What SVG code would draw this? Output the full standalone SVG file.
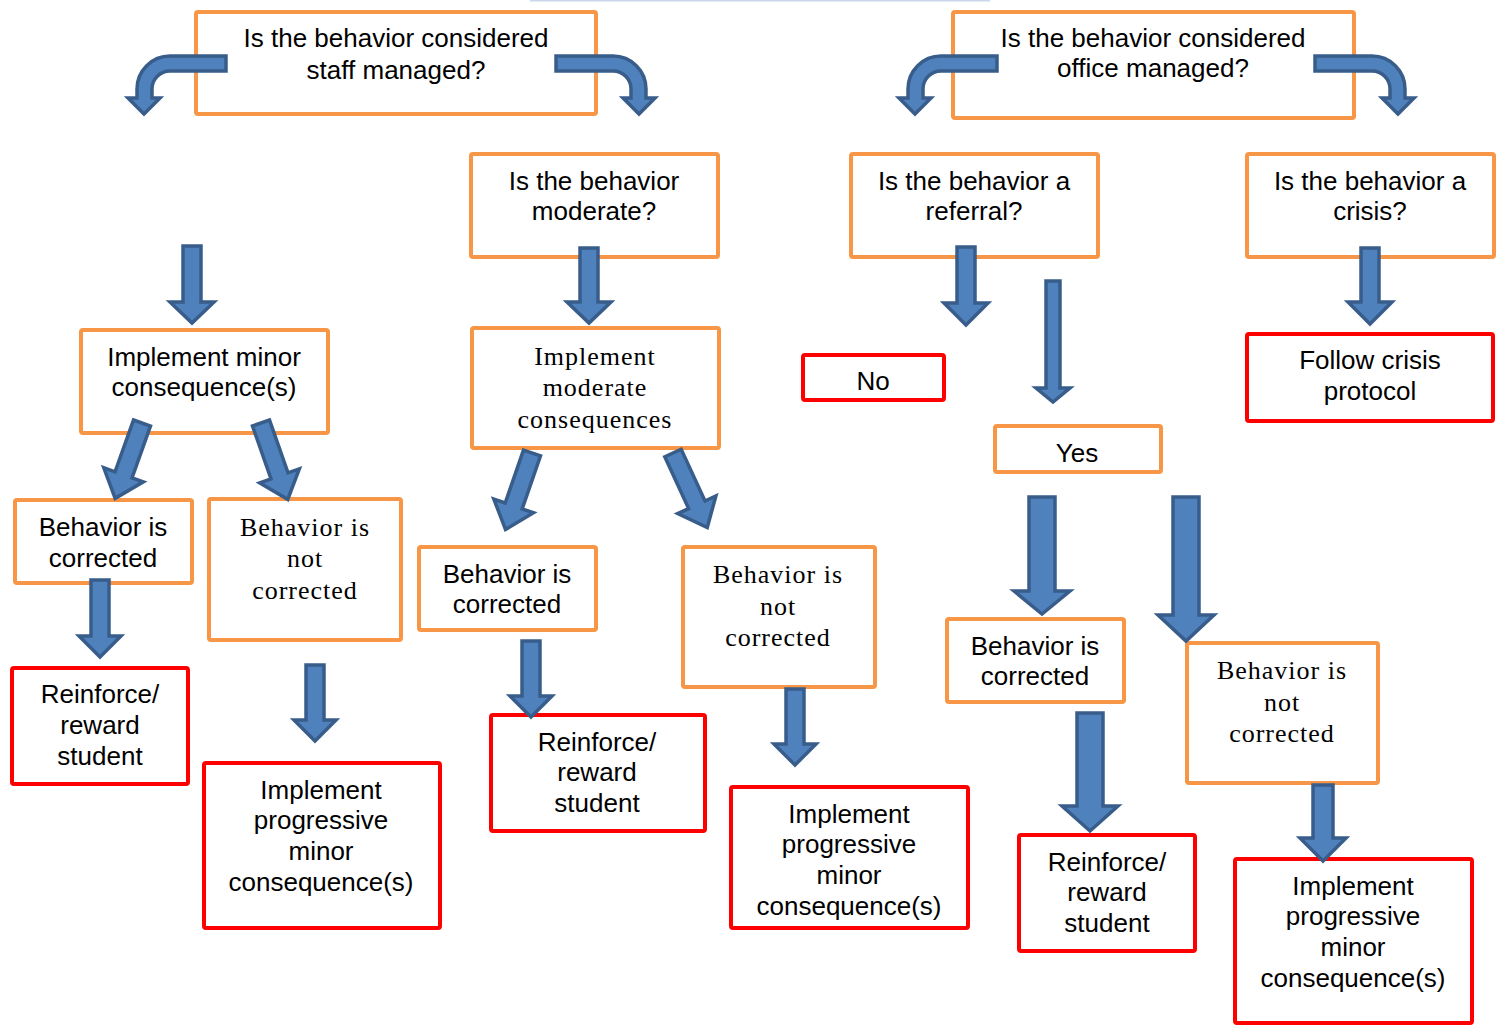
<svg xmlns="http://www.w3.org/2000/svg" width="1512" height="1027" viewBox="0 0 1512 1027">
<style>
.o{fill:#fff;stroke:#F79646;stroke-width:4}
.r{fill:#fff;stroke:#FF0000;stroke-width:4}
.t{font-family:"Liberation Sans",Arial,sans-serif;font-size:26px;fill:#000;text-anchor:middle}
.s{font-family:"Liberation Serif","Times New Roman",serif;font-size:26px;letter-spacing:1px;fill:#000;text-anchor:middle}
.a{fill:#4F81BD;stroke:#385D8A;stroke-width:3.5;stroke-linejoin:miter}
</style>
<rect width="1512" height="1027" fill="#fff"/>
<rect x="530" y="0" width="460" height="1.5" fill="#c9d7ea"/>
<g id="staff"><rect class="o" x="196" y="12" width="400" height="102" rx="2"/><text class="t" x="396" y="47">Is the behavior considered</text><text class="t" x="396" y="79">staff managed?</text></g>
<g id="office"><rect class="o" x="953" y="12" width="401" height="106" rx="2"/><text class="t" x="1153" y="47">Is the behavior considered</text><text class="t" x="1153" y="77">office managed?</text></g>
<g id="moderate"><rect class="o" x="471" y="154" width="247" height="103" rx="2"/><text class="t" x="594" y="190">Is the behavior</text><text class="t" x="594" y="220">moderate?</text></g>
<g id="referral"><rect class="o" x="851" y="154" width="247" height="103" rx="2"/><text class="t" x="974" y="190">Is the behavior a</text><text class="t" x="974" y="220">referral?</text></g>
<g id="crisis"><rect class="o" x="1247" y="154" width="247" height="103" rx="2"/><text class="t" x="1370" y="190">Is the behavior a</text><text class="t" x="1370" y="220">crisis?</text></g>
<g id="minor"><rect class="o" x="81" y="330" width="247" height="103" rx="2"/><text class="t" x="204" y="366">Implement minor</text><text class="t" x="204" y="396">consequence(s)</text></g>
<g id="modcons"><rect class="o" x="472" y="328" width="247" height="120" rx="2"/><text class="s" x="595" y="365">Implement</text><text class="s" x="595" y="396">moderate</text><text class="s" x="595" y="428">consequences</text></g>
<g id="no"><rect class="r" x="803" y="355" width="141" height="45" rx="2"/><text class="t" x="873" y="390">No</text></g>
<g id="followcrisis"><rect class="r" x="1247" y="334" width="246" height="87" rx="2"/><text class="t" x="1370" y="369">Follow crisis</text><text class="t" x="1370" y="400">protocol</text></g>
<g id="yes"><rect class="o" x="995" y="426" width="166" height="46" rx="2"/><text class="t" x="1077" y="462">Yes</text></g>
<g id="corrL"><rect class="o" x="15" y="500" width="177" height="83" rx="2"/><text class="t" x="103" y="536">Behavior is</text><text class="t" x="103" y="567">corrected</text></g>
<g id="notcorrL"><rect class="o" x="209" y="499" width="192" height="141" rx="2"/><text class="s" x="305" y="536">Behavior is</text><text class="s" x="305" y="567">not</text><text class="s" x="305" y="599">corrected</text></g>
<g id="corrM"><rect class="o" x="419" y="547" width="177" height="83" rx="2"/><text class="t" x="507" y="583">Behavior is</text><text class="t" x="507" y="613">corrected</text></g>
<g id="notcorrM"><rect class="o" x="683" y="547" width="192" height="140" rx="2"/><text class="s" x="778" y="583">Behavior is</text><text class="s" x="778" y="615">not</text><text class="s" x="778" y="646">corrected</text></g>
<g id="corrR"><rect class="o" x="947" y="619" width="177" height="83" rx="2"/><text class="t" x="1035" y="655">Behavior is</text><text class="t" x="1035" y="685">corrected</text></g>
<g id="notcorrR"><rect class="o" x="1187" y="643" width="191" height="140" rx="2"/><text class="s" x="1282" y="679">Behavior is</text><text class="s" x="1282" y="711">not</text><text class="s" x="1282" y="742">corrected</text></g>
<g id="rewardL"><rect class="r" x="12" y="668" width="176" height="116" rx="2"/><text class="t" x="100" y="703">Reinforce/</text><text class="t" x="100" y="734">reward</text><text class="t" x="100" y="765">student</text></g>
<g id="progL"><rect class="r" x="204" y="763" width="236" height="165" rx="2"/><text class="t" x="321" y="799">Implement</text><text class="t" x="321" y="829">progressive</text><text class="t" x="321" y="860">minor</text><text class="t" x="321" y="891">consequence(s)</text></g>
<g id="rewardM"><rect class="r" x="491" y="715" width="214" height="116" rx="2"/><text class="t" x="597" y="751">Reinforce/</text><text class="t" x="597" y="781">reward</text><text class="t" x="597" y="812">student</text></g>
<g id="progM"><rect class="r" x="731" y="787" width="237" height="141" rx="2"/><text class="t" x="849" y="823">Implement</text><text class="t" x="849" y="853">progressive</text><text class="t" x="849" y="884">minor</text><text class="t" x="849" y="915">consequence(s)</text></g>
<g id="rewardR"><rect class="r" x="1019" y="835" width="176" height="116" rx="2"/><text class="t" x="1107" y="871">Reinforce/</text><text class="t" x="1107" y="901">reward</text><text class="t" x="1107" y="932">student</text></g>
<g id="progR"><rect class="r" x="1235" y="859" width="237" height="164" rx="2"/><text class="t" x="1353" y="895">Implement</text><text class="t" x="1353" y="925">progressive</text><text class="t" x="1353" y="956">minor</text><text class="t" x="1353" y="987">consequence(s)</text></g>
<g id="connectors">
<path class="a" d="M226,56 H170 A33,33 0 0 0 137,89 V98 H128 L144,114 L160,98 H152 V89 A18,18 0 0 1 170,71 H226 Z"/>
<path class="a" d="M556,56 H613 A33,33 0 0 1 646,89 V98 H655 L639,114 L623,98 H631 V89 A18,18 0 0 0 613,71 H556 Z"/>
<path class="a" d="M997,56 H941 A33,33 0 0 0 908,89 V98 H899 L915,114 L931,98 H923 V89 A18,18 0 0 1 941,71 H997 Z"/>
<path class="a" d="M1315,56 H1372 A33,33 0 0 1 1405,89 V98 H1414 L1398,114 L1382,98 H1390 V89 A18,18 0 0 0 1372,71 H1315 Z"/>
<path class="a" d="M183,246 H201 V302 H214 L192,323 L170,302 H183 Z"/>
<path class="a" d="M580,248 H598 V302 H611 L589,323 L567,302 H580 Z"/>
<path class="a" d="M957,247 H975 V303 H988 L966,325 L944,303 H957 Z"/>
<path class="a" d="M1046,281 H1060 V388 H1070 L1053,402 L1036,388 H1046 Z"/>
<path class="a" d="M1361,248 H1379 V302 H1392 L1370,324 L1348,302 H1361 Z"/>
<path class="a" d="M91,580 H109 V636 H121 L100,657 L79,636 H91 Z"/>
<path class="a" d="M306,665 H324 V720 H336 L315,741 L294,720 H306 Z"/>
<path class="a" d="M522,641 H540 V696 H552 L531,717 L510,696 H522 Z"/>
<path class="a" d="M786,689 H804 V744 H816 L795,765 L774,744 H786 Z"/>
<path class="a" d="M1029,497 H1055 V591 H1070 L1042,614 L1014,591 H1029 Z"/>
<path class="a" d="M1173,497 H1199 V615 H1214 L1186,641 L1158,615 H1173 Z"/>
<path class="a" d="M1077,713 H1103 V806 H1118 L1090,831 L1062,806 H1077 Z"/>
<path class="a" d="M1313,785 H1333 V838 H1346 L1323,861 L1300,838 H1313 Z"/>
<path class="a" transform="translate(142,423) rotate(19.6)" d="M-9,0 H9 V55 H21 L0,80 L-21,55 H-9 Z"/>
<path class="a" transform="translate(261,423) rotate(-19.3)" d="M-9,0 H9 V56 H21 L0,81 L-21,56 H-9 Z"/>
<path class="a" transform="translate(532,453) rotate(19.1)" d="M-9,0 H9 V56 H21 L0,81 L-21,56 H-9 Z"/>
<path class="a" transform="translate(673,453) rotate(-24.7)" d="M-9,0 H9 V57 H21 L0,82 L-21,57 H-9 Z"/>
</g>
</svg>
